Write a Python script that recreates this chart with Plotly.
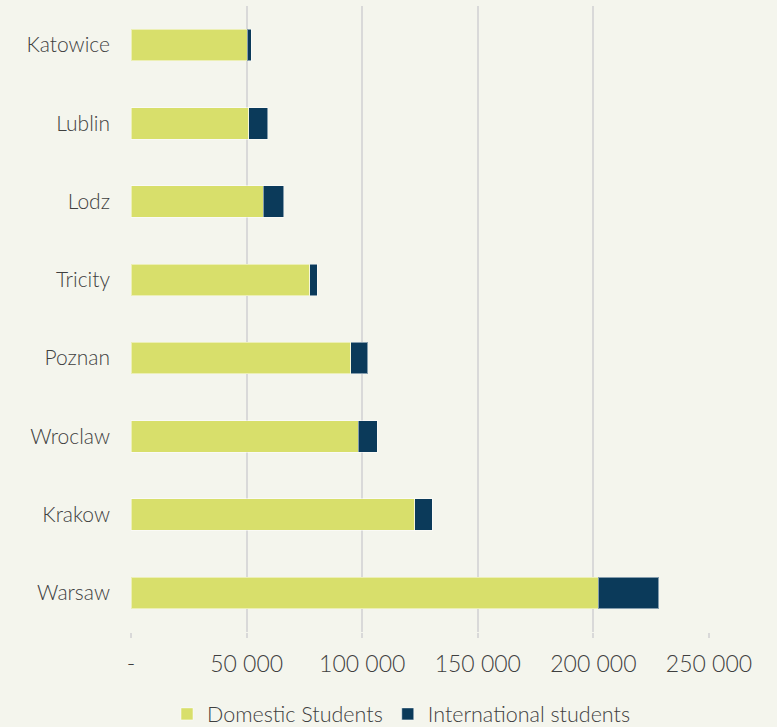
import plotly.graph_objects as go

cities = ["Warsaw", "Krakow", "Wroclaw", "Poznan", "Tricity", "Lodz", "Lublin", "Katowice"]
domestic = [202200, 122800, 98300, 95100, 77400, 57300, 50900, 50200]
international = [26100, 7500, 8200, 7200, 3100, 8700, 8200, 1900]

tick_vals = [0, 50000, 100000, 150000, 200000, 250000]
tick_text = ["-", "50 000", "100 000", "150 000", "200 000", "250 000"]

font_name = "Lato"
text_color = "#3f3f3f"

fig = go.Figure()
fig.add_trace(go.Bar(
    y=cities, x=domestic, orientation="h", name="Domestic Students",
    marker=dict(color="#d8df6b", line=dict(color="rgba(255,255,255,0.5)", width=1)),
))
fig.add_trace(go.Bar(
    y=cities, x=international, orientation="h", name="International students",
    marker=dict(color="#0b3a5a", line=dict(color="rgba(255,255,255,0.5)", width=1)),
))

fig.update_layout(
    barmode="stack",
    bargap=0.595,
    width=777, height=727,
    margin=dict(l=131, r=68, t=6, b=95),
    paper_bgcolor="#f4f5ed",
    plot_bgcolor="#f4f5ed",
    font=dict(family=font_name, size=21, color=text_color, weight=300),
    legend=dict(
        orientation="h",
        xref="paper", x=0.468, xanchor="center",
        yref="container", y=0.018, yanchor="middle",
        font=dict(size=21.5, color=text_color, weight=300),
        itemwidth=30,
        traceorder="normal",
    ),
    showlegend=True,
)

fig.update_xaxes(
    range=[0, 250000],
    tickvals=tick_vals, ticktext=tick_text,
    tickfont=dict(size=23),
    showgrid=True, gridcolor="#d9d9d9", gridwidth=2,
    zeroline=False,
    ticks="outside", ticklen=5, tickcolor="#d9d9d9", tickwidth=2,
    ticklabelstandoff=6,
    showline=False,
)
fig.update_yaxes(
    showgrid=False, zeroline=False,
    ticks="", ticklabelstandoff=20,
    showline=False,
)

fig.write_html("out.html", config={"displayModeBar": False},
               post_script="document.body.style.margin='0';")
